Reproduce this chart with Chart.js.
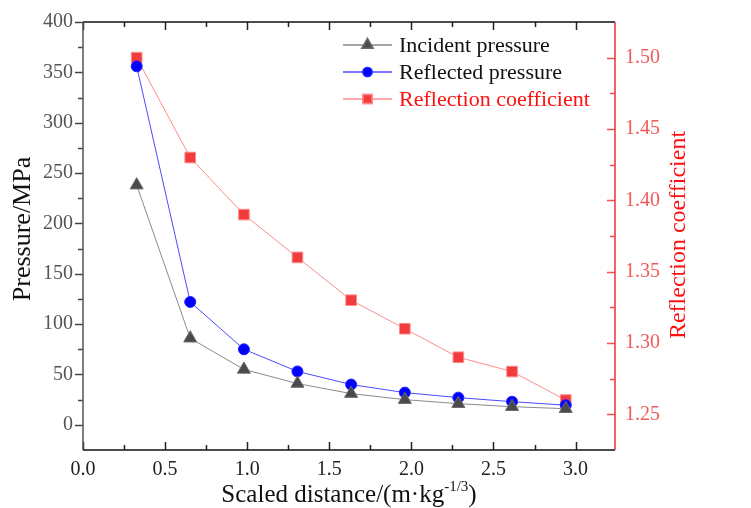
<!DOCTYPE html>
<html>
<head>
<meta charset="utf-8">
<script src="https://cdn.jsdelivr.net/npm/chart.js@4"></script>
<style>
  body { margin: 0; background: #fff; }
  #wrap { width: 751px; height: 508px; }
</style>
</head>
<body>
<div id="wrap"><canvas id="blastChart" width="751" height="508"></canvas></div>
<script>
// values
const scaledDistance = [0.327, 0.653, 0.98, 1.306, 1.633, 1.96, 2.286, 2.613, 2.94];
const incidentPressure = [238, 86, 55, 41, 31, 25, 21, 18, 16];
const reflectedPressure = [356, 122, 75, 53, 40, 32, 27, 23, 19.5];
const reflectionCoef = [1.50, 1.43, 1.39, 1.36, 1.33, 1.31, 1.29, 1.28, 1.26];

const xTicks = [0, 0.5, 1.0, 1.5, 2.0, 2.5, 3.0];
const pressureTicks = [0, 50, 100, 150, 200, 250, 300, 350, 400];
const coefTicks = [1.25, 1.30, 1.35, 1.40, 1.45, 1.50];

const serif = "'Liberation Serif', 'Times New Roman', serif";

function pairs(ys) {
  return ys.map((y, i) => ({ x: scaledDistance[i], y: y }));
}

// frame, ticks, titles and legend drawn Origin-style
const frameStuff = {
  id: "frameStuff",
  afterDraw(chart) {
    const c = chart.ctx;
    const a = chart.chartArea;
    const sx = chart.scales.x, sy = chart.scales.y, sr = chart.scales.y1;
    c.save();
    c.lineWidth = 1.5;

    // x ticks (bottom up, top down), minor at half step
    c.strokeStyle = "#222";
    for (let v = 0; v <= 3.2; v += 0.25) {
      const px = Math.round(sx.getPixelForValue(v)) + 0.5;
      const len = Math.abs(v / 0.5 - Math.round(v / 0.5)) < 1e-6 ? 8 : 5;
      c.beginPath();
      c.moveTo(px, a.bottom); c.lineTo(px, a.bottom - len);
      c.moveTo(px, a.top); c.lineTo(px, a.top + len);
      c.stroke();
    }
    // left ticks, outward
    c.strokeStyle = "#444";
    for (let v = 0; v <= 400; v += 25) {
      const py = Math.round(sy.getPixelForValue(v)) + 0.5;
      const len = v % 50 === 0 ? 8 : 5;
      c.beginPath();
      c.moveTo(a.left, py); c.lineTo(a.left - len, py);
      c.stroke();
    }
    // right ticks, inward
    c.strokeStyle = "#f05050";
    for (let k = 0; k <= 10; k++) {
      const v = 1.25 + k * 0.025;
      const py = Math.round(sr.getPixelForValue(v)) + 0.5;
      const len = k % 2 === 0 ? 8 : 5;
      c.beginPath();
      c.moveTo(a.right, py); c.lineTo(a.right - len, py);
      c.stroke();
    }

    // frame lines
    c.strokeStyle = "#111";
    c.beginPath();
    c.moveTo(a.left, a.top); c.lineTo(a.right, a.top);
    c.moveTo(a.left, a.bottom); c.lineTo(a.right, a.bottom);
    c.stroke();
    c.strokeStyle = "#555";
    c.beginPath();
    c.moveTo(a.left, a.top); c.lineTo(a.left, a.bottom);
    c.stroke();
    c.strokeStyle = "#f03030";
    c.beginPath();
    c.moveTo(a.right, a.top); c.lineTo(a.right, a.bottom);
    c.stroke();

    // axis titles
    c.textBaseline = "middle";
    c.textAlign = "center";
    c.font = "26px " + serif;
    c.fillStyle = "#111";
    c.save();
    c.translate(23, 229);
    c.rotate(-Math.PI / 2);
    c.fillText("Pressure/MPa", 0, 0);
    c.restore();

    c.font = "24px " + serif;
    c.fillStyle = "#ff1010";
    c.save();
    c.translate(679, 235);
    c.rotate(-Math.PI / 2);
    c.fillText("Reflection coefficient", 0, 0);
    c.restore();

    // x title with superscript
    c.fillStyle = "#111";
    c.textAlign = "left";
    c.textBaseline = "alphabetic";
    const main = "Scaled distance/(m\u00b7kg";
    const sup = "-1/3";
    const tail = ")";
    c.font = "25px " + serif;
    const wMain = c.measureText(main).width;
    const wTail = c.measureText(tail).width;
    c.font = "15px " + serif;
    const wSup = c.measureText(sup).width;
    let tx = (a.left + a.right) / 2 - (wMain + wSup + wTail) / 2;
    const base = 502;
    c.font = "25px " + serif;
    c.fillText(main, tx, base);
    tx += wMain;
    c.font = "15px " + serif;
    c.fillText(sup, tx, base - 11);
    tx += wSup;
    c.font = "25px " + serif;
    c.fillText(tail, tx, base);

    // legend
    const rows = [45, 72, 99];
    chart.data.datasets.forEach((ds, i) => {
      const y = rows[i];
      c.strokeStyle = ds.borderColor;
      c.lineWidth = 1.5;
      c.beginPath();
      c.moveTo(343, y); c.lineTo(392, y);
      c.stroke();
      Chart.helpers.drawPoint(c, {
        pointStyle: ds.pointStyle,
        radius: ds.pointRadius - 1,
        borderWidth: 1
      }, 367.5, y);
      c.fillStyle = ds.pointBackgroundColor;
      c.strokeStyle = ds.pointBorderColor;
      c.fill(); c.stroke();
      c.font = "22px " + serif;
      c.textAlign = "left";
      c.textBaseline = "middle";
      c.fillStyle = i === 2 ? "#ff1010" : "#111";
      c.fillText(ds.label, 399, y + 1);
    });
    c.restore();
  }
};

new Chart(document.getElementById("blastChart"), {
  type: "line",
  data: {
    datasets: [
      {
        label: "Incident pressure",
        data: pairs(incidentPressure),
        yAxisID: "y",
        borderColor: "#8a8a8a",
        borderWidth: 1,
        pointStyle: "triangle",
        pointRadius: 7.5,
        pointBackgroundColor: "#4a4a4a",
        pointBorderColor: "#6a6a6a",
        pointBorderWidth: 1
      },
      {
        label: "Reflected pressure",
        data: pairs(reflectedPressure),
        yAxisID: "y",
        borderColor: "#4a4aff",
        borderWidth: 1,
        pointStyle: "circle",
        pointRadius: 5.5,
        pointBackgroundColor: "#0000ff",
        pointBorderColor: "#2020ff",
        pointBorderWidth: 1
      },
      {
        label: "Reflection coefficient",
        data: pairs(reflectionCoef),
        yAxisID: "y1",
        borderColor: "#ff8c8c",
        borderWidth: 1,
        pointStyle: "rect",
        pointRadius: 7.5,
        pointBackgroundColor: "#f03c3c",
        pointBorderColor: "#ff8a8a",
        pointBorderWidth: 1
      }
    ]
  },
  options: {
    responsive: false,
    animation: false,
    layout: { padding: { top: 22, left: 0, right: 0, bottom: 0 } },
    plugins: {
      legend: { display: false },
      tooltip: { enabled: false }
    },
    scales: {
      x: {
        type: "linear",
        min: 0,
        max: 3.24,
        afterBuildTicks: (s) => { s.ticks = xTicks.map(v => ({ value: v })); },
        afterFit: (s) => { s.height = 58; },
        grid: { display: false, drawTicks: false },
        border: { display: false },
        ticks: {
          padding: 8,
          color: "#222",
          font: { family: serif, size: 20 },
          callback: (v) => Number(v).toFixed(1)
        }
      },
      y: {
        position: "left",
        min: -25,
        max: 400,
        afterBuildTicks: (s) => { s.ticks = pressureTicks.map(v => ({ value: v })); },
        afterFit: (s) => { s.width = 83; },
        grid: { display: false, drawTicks: false },
        border: { display: false },
        ticks: {
          padding: 10,
          color: "#555",
          font: { family: serif, size: 20 }
        }
      },
      y1: {
        position: "right",
        min: 1.225,
        max: 1.525,
        afterBuildTicks: (s) => { s.ticks = coefTicks.map(v => ({ value: v })); },
        afterFit: (s) => { s.width = 136; },
        grid: { display: false, drawTicks: false },
        border: { display: false },
        ticks: {
          padding: 10,
          color: "#f05a5a",
          font: { family: serif, size: 20 },
          callback: (v) => Number(v).toFixed(2)
        }
      }
    }
  },
  plugins: [frameStuff]
});
</script>
</body>
</html>
